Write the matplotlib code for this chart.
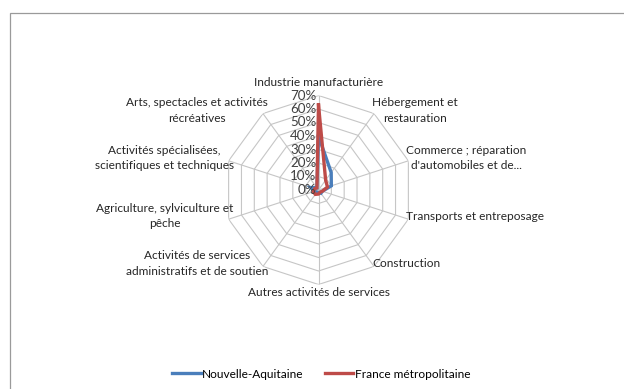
import numpy as np
import matplotlib.pyplot as plt
from matplotlib.lines import Line2D
from matplotlib.patches import Rectangle

plt.rcParams['font.family'] = ['Lato', 'DejaVu Sans']

# Data (clockwise from top)
categories = [
    "Industrie manufacturière",
    "Hébergement et\nrestauration",
    "Commerce ; réparation\nd'automobiles et de...",
    "Transports et entreposage",
    "Construction",
    "Autres activités de services",
    "Activités de services\nadministratifs et de soutien",
    "Agriculture, sylviculture et\npêche",
    "Activités spécialisées,\nscientifiques et techniques",
    "Arts, spectacles et activités\nrécréatives",
]
nouvelle_aquitaine = [40, 16, 10, 3, 3, 2, 2, 3, 6, 2]
france_metro = [63, 9, 7, 3, 2, 3, 4, 4, 3, 2]
ticks = [0, 10, 20, 30, 40, 50, 60, 70]
tick_labels = [f"{t}%" for t in ticks]

blue = '#4A7EBB'
red = '#BE4B48'
grid_col = '#C6C6C6'

W, H = 624, 389
fig = plt.figure(figsize=(W / 100, H / 100), dpi=100)

# outer chart border
fig.patches.append(Rectangle((10 / W, -0.1), 1.2, 1 - 13 / H + 0.1, transform=fig.transFigure,
                             fill=False, edgecolor='#9A9A9A', linewidth=0.9))

# polar axes placement
cx, cy, rad = 318.5, 190, 94.5
ax = fig.add_axes([(cx - rad) / W, 1 - (cy + rad) / H, 2 * rad / W, 2 * rad / H], projection='polar')
ax.set_theta_zero_location('N')
ax.set_theta_direction(-1)
ax.set_ylim(0, ticks[-1])
ax.grid(False)
ax.spines['polar'].set_visible(False)
ax.set_xticks([])
ax.set_yticks([])
ax.patch.set_alpha(0)

n = len(categories)
theta = np.linspace(0, 2 * np.pi, n, endpoint=False)
theta_c = np.append(theta, theta[0])

# decagon grid
for t in ticks[1:]:
    ax.plot(theta_c, [t] * (n + 1), color=grid_col, lw=0.8, zorder=1)
for th in theta:
    ax.plot([th, th], [0, ticks[-1]], color=grid_col, lw=0.8, zorder=1)

# series
ax.plot(theta_c, nouvelle_aquitaine + nouvelle_aquitaine[:1], color=blue, lw=2.4, zorder=3,
        solid_joinstyle='miter')
ax.plot(theta_c, france_metro + france_metro[:1], color=red, lw=2.4, zorder=4,
        solid_joinstyle='miter')

fs = 8.6
# radial tick labels
for t, lab in zip(ticks, tick_labels):
    ax.annotate(lab, xy=(0, t), xytext=(-2, 0), textcoords='offset pixels',
                ha='right', va='center', fontsize=9.6, color='#404040', zorder=5)

# category labels
for th, lab in zip(theta, categories):
    s, c = np.sin(th), np.cos(th)
    if abs(s) < 0.01:
        if c > 0:
            ha, va, off = 'center', 'bottom', (0, 7)
        else:
            ha, va, off = 'center', 'top', (0, -2)
    elif s > 0:
        ha, va, off = 'left', 'center', (-2, 3)
    else:
        ha, va, off = 'right', 'center', (5, 3)
    ax.annotate(lab, xy=(th, ticks[-1]), xytext=off, textcoords='offset pixels',
                ha=ha, va=va, multialignment='center', fontsize=fs, color='#262626',
                linespacing=1.5, annotation_clip=False)

handles = [Line2D([], [], color=blue, lw=2.4), Line2D([], [], color=red, lw=2.4)]
fig.legend(handles, ['Nouvelle-Aquitaine', 'France métropolitaine'], loc='center',
           bbox_to_anchor=(321 / W, 1 - 374 / H), ncol=2, frameon=False, fontsize=fs,
           handlelength=2.4, handletextpad=0.1, columnspacing=1.8)

fig.savefig('out.png', dpi=100)
